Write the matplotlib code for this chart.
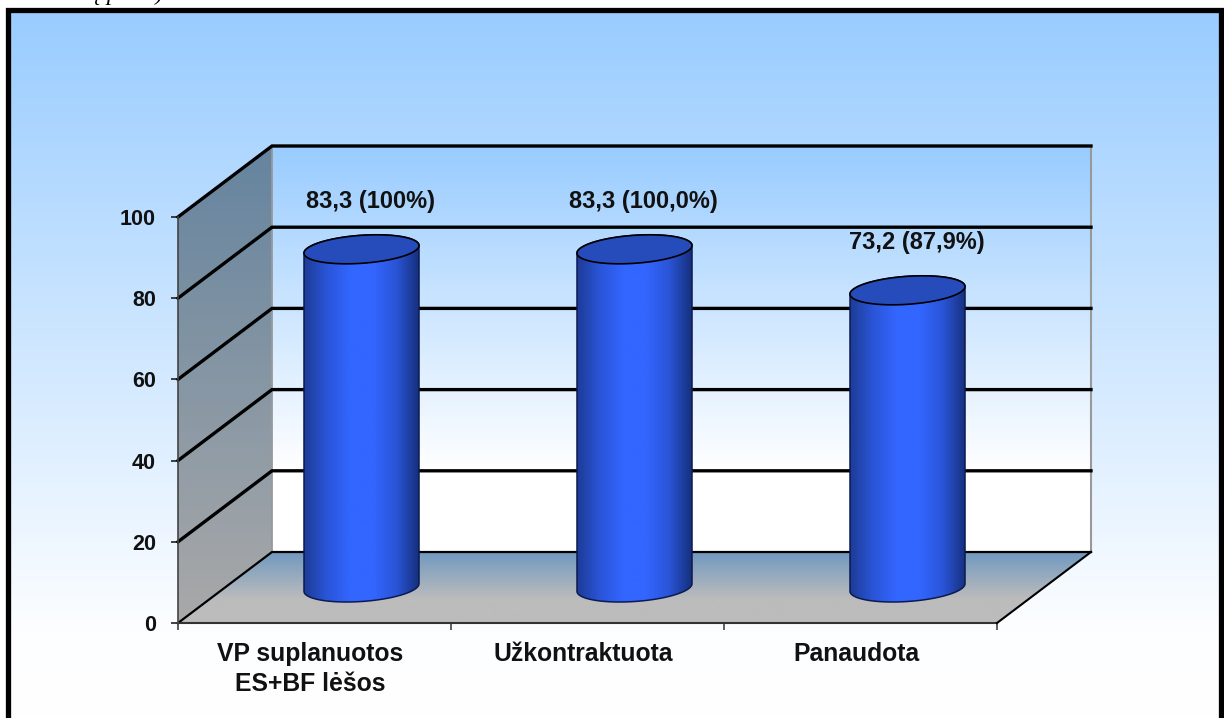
import numpy as np
import matplotlib
matplotlib.use("Agg")
import matplotlib.pyplot as plt
from matplotlib.colors import LinearSegmentedColormap
from matplotlib.patches import Polygon, Rectangle

categories = ["VP suplanuotos\nES+BF lėšos", "Užkontraktuota", "Panaudota"]
values = [83.3, 83.3, 73.2]
value_labels = ["83,3 (100%)", "83,3 (100,0%)", "73,2 (87,9%)"]
y_ticks = [0, 20, 40, 60, 80, 100]

W, H = 1224, 718
# front plane of the 3d box in pixels, the rest is derived from the axes scale
LEFT, RIGHT, BOTTOM, TOP = 178, 997, 623, 217
SX = (RIGHT - LEFT) / len(categories)
SY = (BOTTOM - TOP) / 100
DX = 94 / SX    # depth of the box in data units
DY = 71 / SY

plt.rcParams["font.family"] = ["Liberation Sans", "DejaVu Sans"]
plt.rcParams["font.weight"] = "bold"
plt.rcParams["font.size"] = 15.5
TXT = "#111111"


def cmap(*cols):
    return LinearSegmentedColormap.from_list("c", list(cols))


def gradient(ax, extent, cm, clip=None, horizontal=False, z=1):
    g = np.linspace(0, 1, 256)
    g = g[None, :] if horizontal else g[:, None]
    im = ax.imshow(g, extent=extent, origin="lower", cmap=cm, aspect="auto",
                   vmin=0, vmax=1, zorder=z, interpolation="bilinear")
    im.set_clip_box(ax.figure.bbox)
    if clip is not None:
        clip.set_transform(ax.transData)
        im.set_clip_path(clip)
    else:
        im.set_clip_on(False)
    return im


fig = plt.figure(figsize=(W / 100, H / 100), dpi=100, facecolor="white")

# slide background and black frame, this axes is just the figure in pixels
bg = fig.add_axes([0, 0, 1, 1], zorder=0)
bg.axis("off")
gradient(bg, [7, 1221, 0, H - 10], cmap((0, "#ffffff"), (0.12, "#fdfeff"), (1, "#99ccff")), z=1)
bg.add_patch(Rectangle((7.5, -20), 1213.5, H - 9.5 + 20, fill=False, ec="black", lw=3.8, zorder=3))
bg.set_xlim(0, W)
bg.set_ylim(0, H)
bg.text(8, H + 6, "ša sudarų proc.)", family=["Liberation Serif"], style="italic", weight="normal",
        fontsize=17, color="black", ha="left", va="center", clip_on=False)

ax = fig.add_axes([LEFT / W, 1 - BOTTOM / H, (RIGHT - LEFT) / W, (BOTTOM - TOP) / H], zorder=1)
ax.patch.set_alpha(0)
n = len(categories)

# back wall, side wall, floor
gradient(ax, [DX, n + DX, DY, 100 + DY], cmap((0, "#ffffff"), (0.2, "#ffffff"), (1, "#99ccff")), z=1)
side = Polygon([(0, 0), (DX, DY), (DX, 100 + DY), (0, 100)], fc="none", ec="none")
ax.add_patch(side)
gradient(ax, [0, DX, 0, 100 + DY], cmap("#a9a9a9", "#65849f"), clip=side, z=1)
floor = Polygon([(0, 0), (n, 0), (n + DX, DY), (DX, DY)], fc="none", ec="none")
ax.add_patch(floor)
gradient(ax, [0, n + DX, 0, DY], cmap((0, "#bcbcbc"), (0.33, "#bcbcbc"), (1, "#6f98c0")), clip=floor, z=1)

# grid lines on the back and side walls
for t in y_ticks:
    lw = 1.6 if t == 0 else 2.4
    ax.plot([0, DX, n + DX], [t, t + DY, t + DY], color="black", lw=lw, zorder=2,
            solid_joinstyle="miter", clip_on=False)
ax.plot([0, n], [0, 0], color="#333333", lw=1.5, zorder=2, clip_on=False)
ax.plot([n, n + DX], [0, DY], color="black", lw=1.5, zorder=2, clip_on=False)
ax.plot([DX, DX], [DY, 100 + DY], color="#999999", lw=1.3, zorder=1.5, clip_on=False)
ax.plot([n + DX, n + DX], [DY, 100 + DY], color="#999999", lw=1.5, zorder=1.5, clip_on=False)
ax.plot([0, 0], [0, 100], color="#444444", lw=1.2, zorder=2, clip_on=False)

# cylinders, the tilted ellipse is given in pixels then scaled to data units
t_low = np.linspace(np.pi, 2 * np.pi, 100)
t_up = np.linspace(0, np.pi, 100)


def ell(t):
    return 57.5 * np.cos(t) / SX, (3.8 * np.cos(t) + 14 * np.sin(t)) / SY


bar_cm = cmap("#1d3c96", "#2a55d8", "#3366ff", "#3366ff", "#2a55d8", "#16307e")
for i, v in enumerate(values):
    cx = i + 0.5 + DX / 2
    y0 = DY / 2
    y1 = v + DY / 2
    lx, ly = ell(t_low)
    ux, uy = ell(t_up)
    pts = np.r_[np.c_[cx + lx, y0 + ly], np.c_[cx + ux, y1 + uy]]
    body = Polygon(pts, fc="none", ec="none")
    ax.add_patch(body)
    gradient(ax, [cx - 57.5 / SX, cx + 57.5 / SX, 0, 100], bar_cm, clip=body, horizontal=True, z=3)
    ax.add_patch(Polygon(pts, fc="none", ec="#0c1a50", lw=1.1, zorder=3.1, clip_on=False))
    ex, ey = ell(np.linspace(0, 2 * np.pi, 200))
    ax.add_patch(Polygon(np.c_[cx + ex, y1 + ey], fc="#264cbc", ec="black", lw=1.2, zorder=3.2, clip_on=False))
    ax.annotate(value_labels[i], (cx, y1), xytext=(6.5, 34.5), textcoords="offset points",
                ha="center", va="center", color=TXT, zorder=4, fontsize=17)

ax.set_xlim(0, n)
ax.set_ylim(0, 100)
for s in ax.spines.values():
    s.set_visible(False)
ax.set_yticks(y_ticks)
ax.set_yticklabels([str(y) for y in y_ticks], color=TXT)
ax.set_xticks(range(n + 1))
ax.set_xticklabels([])
ax.set_xticks(np.arange(n) + 0.485, minor=True)
ax.set_xticklabels(categories, minor=True, color=TXT, linespacing=1.3, va="top", fontsize=17.8)
ax.tick_params(axis="y", length=5, width=1.2, pad=11, color="#222222")
ax.tick_params(axis="x", which="major", length=5, width=1.2, color="#444444")
ax.tick_params(axis="x", which="minor", length=0, pad=14)

fig.savefig("out.png", dpi=100)
